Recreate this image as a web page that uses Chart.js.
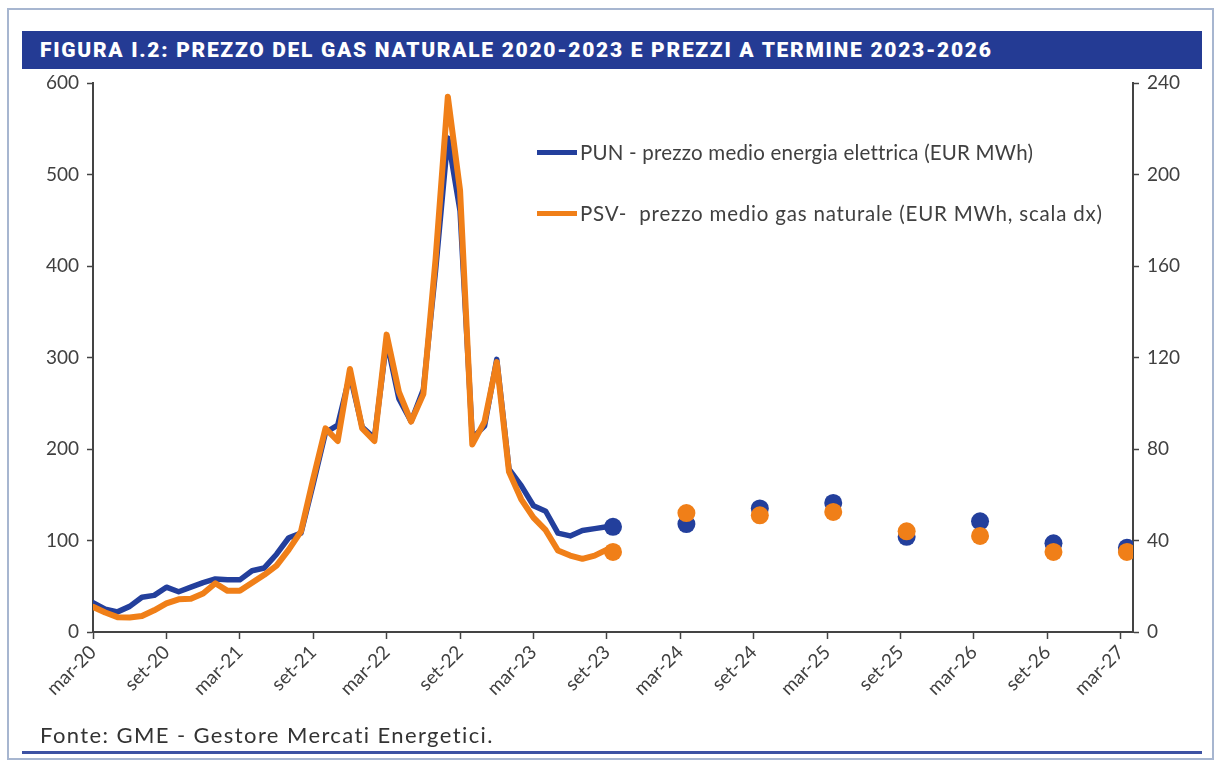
<!DOCTYPE html>
<html>
<head>
<meta charset="utf-8">
<script src="https://cdn.jsdelivr.net/npm/chart.js@4.4.1/dist/chart.umd.min.js"></script>
<style>
    body { margin: 0; background: #fff; width: 1222px; height: 765px; overflow: hidden; position: relative; font-family: Lato, sans-serif; }
    #frame { position: absolute; left: 7px; top: 8px; width: 1207px; height: 752px; border: 2px solid #a7b6d0; box-sizing: border-box; }
    #title { position: absolute; left: 22px; top: 31px; width: 1180px; height: 38px; background: #243b94; color: #fff;
             font: 900 21px Roboto, sans-serif; letter-spacing: 1.7px; line-height: 38px; padding-left: 18px; box-sizing: border-box; white-space: nowrap; }
    #chartBox { position: absolute; left: 0; top: 0; width: 1222px; height: 765px; }
    .leg { position: absolute; left: 537px; height: 24px; font: 20.5px Lato, sans-serif; letter-spacing: 0.2px; color: #404040; display: flex; align-items: center; white-space: nowrap; }
    .leg i { display: inline-block; width: 40px; height: 5px; margin-right: 3px; }
    #source { position: absolute; left: 40px; top: 721px; font: 22px Lato, sans-serif; letter-spacing: 1.4px; color: #333; }
    #rule { position: absolute; left: 22px; top: 751px; width: 1180px; height: 3px; background: #3d52a3; }
</style>
</head>
<body>
<div id="frame"></div>
<div id="title">FIGURA I.2: PREZZO DEL GAS NATURALE 2020-2023 E PREZZI A TERMINE 2023-2026</div>
<div id="chartBox"><canvas id="chart" width="1222" height="765"></canvas></div>
<div class="leg" style="top:140px"><i style="background:#233f9c"></i>PUN - prezzo medio energia elettrica (EUR MWh)</div>
<div class="leg" style="top:201px; letter-spacing:0.8px"><i style="background:#f07f18"></i>PSV-&nbsp; prezzo medio gas naturale (EUR MWh, scala dx)</div>
<div id="source">Fonte: GME - Gestore Mercati Energetici.</div>
<div id="rule"></div>

<script>
// x axis tick labels, one every 6 months starting mar-20 (month index 0)
const xTickLabels = ['mar-20', 'set-20', 'mar-21', 'set-21', 'mar-22', 'set-22', 'mar-23', 'set-23',
                     'mar-24', 'set-24', 'mar-25', 'set-25', 'mar-26', 'set-26', 'mar-27'];

// monthly averages mar-20 .. set-23 (EUR/MWh)
const punMonthly = [32, 25, 22, 28, 38, 40, 49, 44, 49, 54,
                    58, 57, 57, 67, 70, 85, 103, 108, 162, 218, 226, 281,
                    224, 212, 318, 255, 230, 265, 395, 540, 460, 212, 225, 298,
                    178, 160, 138, 132, 108, 105, 111, 113, 115];
const psvMonthly = [11, 8.5, 6.5, 6.3, 7, 9.5, 12.5, 14.3, 14.5, 16.8,
                    21.3, 18, 18, 21.5, 25, 29, 36, 44, 67, 89, 83.5, 115,
                    89, 83.5, 130, 105, 92, 104, 163, 234, 193, 82, 92, 118,
                    70, 58, 50, 44.5, 35.6, 33.4, 32, 33.4, 36];

// forward prices (month index position on the axis)
const fwdPos = [42.5, 48.5, 54.5, 60.5, 66.5, 72.5, 78.5, 84.5];
const punForward = [115, 118, 135, 141, 104, 121, 97, 92];
const psvForward = [35, 52, 51, 52.5, 44, 42, 35, 35];

const blue = '#233f9c';
const orange = '#f07f18';
const axisColor = '#444';
const tickFont = { family: 'Lato', size: 19 };

const toPoints = (vals, pos) => vals.map((v, i) => ({ x: pos ? pos[i] : i, y: v }));

const ctx = document.getElementById('chart').getContext('2d');
new Chart(ctx, {
    type: 'line',
    data: {
        datasets: [
            { label: 'PSV forward', data: toPoints(psvForward, fwdPos), yAxisID: 'y1', showLine: false,
              pointRadius: 9, pointBackgroundColor: orange, pointBorderWidth: 0 },
            { label: 'PSV', data: toPoints(psvMonthly), yAxisID: 'y1', borderColor: orange, borderWidth: 6,
              pointRadius: 0, borderJoinStyle: 'round', borderCapStyle: 'round' },
            { label: 'PUN forward', data: toPoints(punForward, fwdPos), yAxisID: 'y', showLine: false,
              pointRadius: 9, pointBackgroundColor: blue, pointBorderWidth: 0 },
            { label: 'PUN', data: toPoints(punMonthly), yAxisID: 'y', borderColor: blue, borderWidth: 5.5,
              pointRadius: 0, borderJoinStyle: 'round', borderCapStyle: 'round' }
        ]
    },
    options: {
        responsive: false,
        animation: false,
        layout: { padding: { top: 83, left: 0, right: 0, bottom: 0 } },
        plugins: { legend: { display: false }, tooltip: { enabled: false } },
        scales: {
            x: {
                type: 'linear', min: 0, max: 85,
                ticks: {
                    stepSize: 6, includeBounds: false, autoSkip: false,
                    minRotation: 45, maxRotation: 45, padding: 2,
                    font: tickFont, color: '#404040',
                    callback: v => xTickLabels[v / 6] ?? ''
                },
                grid: { drawOnChartArea: false, tickLength: 7, color: axisColor, tickWidth: 1.5 },
                border: { color: axisColor, width: 2 },
                afterFit: s => { s.height = 133; }
            },
            y: {
                position: 'left', min: 0, max: 600,
                ticks: { stepSize: 100, font: tickFont, color: '#404040', padding: 8 },
                grid: { drawOnChartArea: false, tickLength: 6, color: axisColor, tickWidth: 1.5 },
                border: { color: axisColor, width: 2 },
                afterFit: s => { s.width = 93; }
            },
            y1: {
                position: 'right', min: 0, max: 240,
                ticks: { stepSize: 40, font: tickFont, color: '#404040', padding: 8 },
                grid: { drawOnChartArea: false, tickLength: 6, color: axisColor, tickWidth: 1.5 },
                border: { color: axisColor, width: 2 },
                afterFit: s => { s.width = 89; }
            }
        }
    }
});
</script>
</body>
</html>
